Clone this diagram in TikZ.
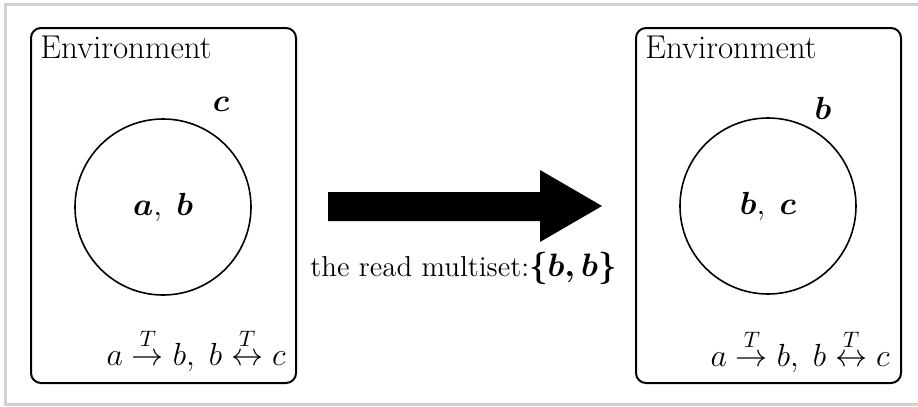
\RequirePackage{fix-cm}
\documentclass[tikz,border=0pt]{standalone}
\usepackage{amsmath}
\usepackage{fontspec}
\begin{document}
\begin{tikzpicture}[x=0.5pt,y=-0.5pt,
  envbox/.style={draw=black,line width=1pt,rounded corners=5pt,minimum width=132.5pt,minimum height=177.5pt,inner sep=0pt},
  membrane/.style={draw=black,line width=0.8pt,circle,minimum size=88pt,inner sep=0pt},
  envtitle/.style={anchor=base west,inner sep=0pt,font=\fontsize{16.5}{20}\selectfont},
  objlabel/.style={inner sep=0pt,font=\fontsize{16}{19}\selectfont},
  rulelabel/.style={anchor=base east,inner sep=0pt,font=\fontsize{16}{19}\selectfont},
  frameline/.style={draw={rgb,255:red,210;green,210;blue,210},line width=1.5pt}]
\useasboundingbox (0,0) rectangle (918,407);
% outer frame
\draw[frameline] (918,4.5) -- (5.5,4.5) -- (5.5,404) -- (918,404);

% left configuration
\node[envbox] (envL) at (163.5,205.5) {};
\node[envtitle] (titleL) at (40,59) {Environment};
\node[membrane] (memL) at (163,207) {};
\node[objlabel] (inL) at (memL.center) {$\boldsymbol{a},\; \boldsymbol{b}$};
\node[objlabel] (outL) at (221,104) {$\boldsymbol{c}$};
\node[rulelabel] (rulesL) at (286,365) {$a \overset{T}{\rightarrow} b,\; b \overset{T}{\leftrightarrow} c$};

% right configuration
\node[envbox] (envR) at (768.5,205.5) {};
\node[envtitle] (titleR) at (645,59) {Environment};
\node[membrane] (memR) at (768,206) {};
\node[objlabel] (inR) at (memR.center) {$\boldsymbol{b},\; \boldsymbol{c}$};
\node[objlabel] (outR) at (823,108) {$\boldsymbol{b}$};
\node[rulelabel] (rulesR) at (890,366) {$a \overset{T}{\rightarrow} b,\; b \overset{T}{\leftrightarrow} c$};

% transition arrow
\fill[black] (328,192) -- (540,192) -- (540,170) -- (602,206) -- (540,242) -- (540,221) -- (328,221) -- cycle;
\node[anchor=base west,inner sep=0pt,font=\fontsize{14.4}{17}\selectfont] (step) at (310,277)
  {the read multiset:\fontsize{16.2}{19}\selectfont$\boldsymbol{\{b, b\}}$};
\end{tikzpicture}
\end{document}
